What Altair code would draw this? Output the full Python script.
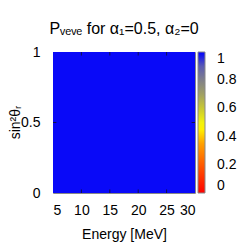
import altair as alt
import pandas as pd

# Heatmap cell (energy range in MeV, sin^2 theta_R range) and its probability
energy_lo = [5]
energy_hi = [30]
sin2_lo = [0]
sin2_hi = [1]
prob = [0.99]

x_ticks = [5, 10, 15, 20, 25, 30]
y_ticks = [0, 0.5, 1]
cb_ticks = [0, 0.2, 0.4, 0.6, 0.8, 1]

palette_domain = [0, 0.2, 0.35, 0.47, 0.6, 0.7, 0.8, 0.9, 1]
palette_colors = ["#ff0000", "#ff5a00", "#ffa000", "#ffff00", "#c8c832",
                  "#a0a064", "#80808a", "#5a5ab4", "#0000ff"]

df = pd.DataFrame({"e0": energy_lo, "e1": energy_hi,
                   "s0": sin2_lo, "s1": sin2_hi, "p": prob})
xt = pd.DataFrame({"tx": x_ticks[1:-1]})
yt = pd.DataFrame({"ty": y_ticks[1:-1]})

font = "Liberation Sans"
tick_color = "#101050"
tick_len_y = 0.025
tick_len_x = 0.6


def xscale():
    return alt.Scale(domain=[5, 30], nice=False, zero=False)


def yscale():
    return alt.Scale(domain=[0, 1], nice=False)


def xaxis():
    return alt.Axis(values=x_ticks, title="Energy [MeV]", ticks=False,
                    domain=False, grid=False, labelPadding=10,
                    labelOverlap=False,
                    labelFontSize=14, titleFontSize=14, labelFont=font,
                    titleFont=font, titleFontWeight="normal",
                    labelColor="black", titleColor="black",
                    titleBaseline="alphabetic", titleY=45)


def yaxis():
    return alt.Axis(values=y_ticks, title="sin²θᵣ", ticks=False,
                    domain=False, grid=False, labelPadding=13,
                    labelOverlap=False,
                    labelFontSize=14, titleFontSize=14, labelFont=font,
                    titleFont=font, titleFontWeight="normal",
                    labelColor="black", titleColor="black",
                    format="~g", titleAngle=270, titleX=-38, titleY=70,
                    titleBaseline="middle")


heat = alt.Chart(df).mark_rect(strokeWidth=0).encode(
    x=alt.X("e0:Q", scale=xscale(), axis=xaxis()),
    x2="e1:Q",
    y=alt.Y("s0:Q", scale=yscale(), axis=yaxis()),
    y2="s1:Q",
    color=alt.Color("p:Q",
                    scale=alt.Scale(domain=palette_domain, range=palette_colors,
                                    interpolate="rgb"),
                    legend=alt.Legend(orient="none", legendX=145, legendY=0,
                                      title=None, gradientLength=141,
                                      gradientThickness=7, values=cb_ticks,
                                      format="~g", labelOffset=12,
                                      labelFontSize=14, labelFont=font,
                                      labelColor="black", padding=0,
                                      gradientStrokeColor="#888888",
                                      gradientStrokeWidth=1,
                                      labelOverlap=False)),
)

xt_bottom = alt.Chart(xt).mark_rule(color=tick_color, strokeWidth=1).encode(
    x=alt.X("tx:Q", scale=xscale(), axis=xaxis()),
    y=alt.YDatum(0, axis=yaxis()), y2=alt.Y2Datum(tick_len_y))
xt_top = alt.Chart(xt).mark_rule(color=tick_color, strokeWidth=1).encode(
    x=alt.X("tx:Q", scale=xscale(), axis=xaxis()),
    y=alt.YDatum(1, axis=yaxis()), y2=alt.Y2Datum(1 - tick_len_y))
yt_left = alt.Chart(yt).mark_rule(color=tick_color, strokeWidth=1).encode(
    y=alt.Y("ty:Q", scale=yscale(), axis=yaxis()),
    x=alt.XDatum(5, axis=xaxis()), x2=alt.X2Datum(5 + tick_len_x))
yt_right = alt.Chart(yt).mark_rule(color=tick_color, strokeWidth=1).encode(
    y=alt.Y("ty:Q", scale=yscale(), axis=yaxis()),
    x=alt.XDatum(30, axis=xaxis()), x2=alt.X2Datum(30 - tick_len_x))

chart = alt.layer(heat, xt_bottom, xt_top, yt_left, yt_right).properties(
    width=142, height=141,
    title=alt.TitleParams("Pᵥₑᵥₑ for α₁=0.5, α₂=0", fontSize=16, font=font,
                          fontWeight="normal", color="black", anchor="middle",
                          baseline="alphabetic", offset=19, frame="group",
                          dy=24),
    autosize=alt.AutoSizeParams(type="none"),
    padding={"left": 45, "top": 44, "right": 46, "bottom": 52},
).configure_view(stroke="#888888", strokeWidth=1)

chart.save("out.html", embed_options={"renderer": "svg", "actions": False})
